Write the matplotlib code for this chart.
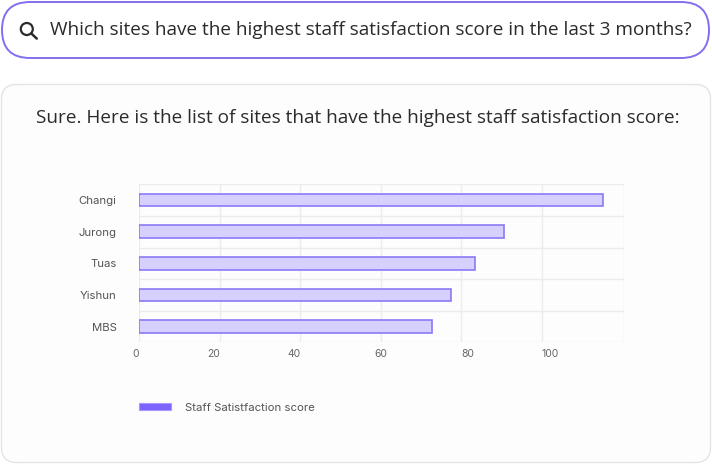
import matplotlib.pyplot as plt
from matplotlib.patches import FancyBboxPatch, Circle, Rectangle
from matplotlib.lines import Line2D

# data
sites = ['Changi', 'Jurong', 'Tuas', 'Yishun', 'MBS']
scores = [115.2, 90.5, 83.3, 77.5, 72.8]
x_ticks = [0, 20, 40, 60, 80, 100]
question = 'Which sites have the highest staff satisfaction score in the last 3 months?'
answer = 'Sure. Here is the list of sites that have the highest staff satisfaction score:'
series_name = 'Staff Satistfaction score'

W, H = 712, 465
fig = plt.figure(figsize=(W / 100, H / 100), dpi=100)

# background layer in pixel coords
bg = fig.add_axes([0, 0, 1, 1])
bg.set_xlim(0, W)
bg.set_ylim(H, 0)
bg.axis('off')

# search pill
pill = FancyBboxPatch((2, 2), 707, 56, boxstyle='round,pad=0,rounding_size=28',
                      fc='white', ec='#8070f0', lw=1.4)
bg.add_patch(pill)
bg.add_patch(Circle((26.8, 29), 6.0, fc='none', ec='#2b2b2b', lw=1.6))
bg.add_line(Line2D([31.2, 36.8], [33.4, 38.6], color='#2b2b2b', lw=1.8, solid_capstyle='round'))
bg.text(49.5, 30, question, family='Open Sans', fontsize=13.7, color='#2b2b2b',
        va='center', ha='left')

# answer card
card = FancyBboxPatch((1.5, 84.5), 709, 378, boxstyle='round,pad=0,rounding_size=15',
                      fc='#fdfdfe', ec='#e4e4e7', lw=1.0)
bg.add_patch(card)
bg.text(357.5, 118, answer, family='Open Sans', fontsize=13.65, color='#2b2b2b',
        va='center', ha='center')

# chart
left, right, top, bottom = 139.3, 624, 184.3, 342.3
ax = fig.add_axes([left / W, 1 - bottom / H, (right - left) / W, (bottom - top) / H])
ax.set_facecolor('none')
ypos = list(range(len(sites)))
ax.barh(ypos, scores, height=0.4, color='#d6d0ff', edgecolor='#8a7af5', linewidth=1.2, zorder=3)
ax.set_ylim(len(sites) - 0.5, -0.5)
ax.set_xlim(0, 120.4)
ax.set_xticks(x_ticks)
ax.set_yticks(ypos)
ax.set_yticklabels(sites)
ax.set_yticks([i - 0.5 for i in range(len(sites) + 1)], minor=True)
ax.grid(which='minor', axis='y', color='#ececec', lw=1.0, zorder=0)
ax.grid(which='major', axis='x', color='#ececec', lw=1.0, zorder=0)
ax.axvline(120.4, color='#ececec', lw=1.0, zorder=0)
for s in ax.spines.values():
    s.set_visible(False)
ax.tick_params(which='both', length=0)
ax.tick_params(axis='x', pad=4.5, labelsize=7.5, labelcolor='#666666')
ax.tick_params(axis='y', pad=16.5, labelsize=8.2, labelcolor='#555555')
for lbl in ax.get_xticklabels() + ax.get_yticklabels():
    lbl.set_family('Inter')
# label alignment as in the reference rendering
for lbl, ha in zip(ax.get_xticklabels(), ['right', 'right', 'right', 'center', 'left', 'left']):
    lbl.set_ha(ha)

# legend
bg.add_patch(Rectangle((139, 402.5), 32, 7, fc='#7b63fb', ec='#a898ff', lw=0.8))
bg.text(185, 407.5, series_name, family='Inter', fontsize=8.2, color='#555555',
        va='center', ha='left')

fig.savefig('out.png', dpi=100)
